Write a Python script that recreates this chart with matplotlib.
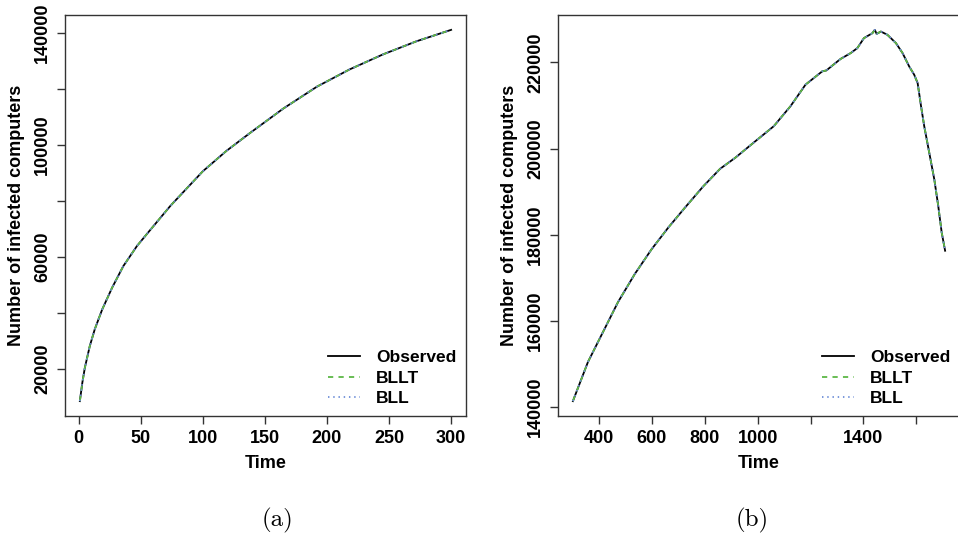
import matplotlib
matplotlib.use('Agg')
import matplotlib.pyplot as plt
from matplotlib.ticker import FixedLocator, FixedFormatter

# ---------------- data ----------------
time_a = [1, 3, 5, 9, 13, 19, 27, 36, 47, 58, 74, 100, 119, 138, 165, 192, 218, 245, 272, 300]
observed_a = [8400, 15000, 20300, 28100, 34100, 41200, 49000, 56700, 63900, 69800, 78300,
              90600, 97900, 104300, 113100, 120900, 127000, 132400, 137100, 141200]
bllt_a = list(observed_a)
bll_a = list(observed_a)

time_b = [301, 358, 396, 434, 472, 535, 599, 662, 725, 795, 858, 915, 991, 1061, 1124, 1181,
          1244, 1260, 1313, 1352, 1377, 1402, 1434, 1443, 1450, 1466, 1491, 1523, 1548, 1573,
          1592, 1605, 1618, 1630, 1649, 1668, 1683, 1696, 1709]
observed_b = [141300, 150400, 155050, 159700, 164350, 170830, 176620, 181640, 186270, 191270,
              195290, 197840, 201680, 205190, 209820, 214840, 217920, 218150, 220790, 222180,
              223330, 225650, 226800, 227570, 226640, 227180, 226410, 224490, 222180, 219080,
              217150, 215230, 209820, 205190, 199030, 192850, 186670, 180510, 176250]
bllt_b = list(observed_b)
bll_b = list(observed_b)

series_labels = ["Observed", "BLLT", "BLL"]

xticks_a = [0, 50, 100, 150, 200, 250, 300]
xticklabels_a = ["0", "50", "100", "150", "200", "250", "300"]
yticks_a = [20000, 40000, 60000, 80000, 100000, 120000, 140000]
yticklabels_a = ["20000", "", "60000", "", "100000", "", "140000"]

xticks_b = [400, 600, 800, 1000, 1200, 1400, 1600]
xticklabels_b = ["400", "600", "800", "1000", "", "1400", ""]
yticks_b = [140000, 160000, 180000, 200000, 220000]
yticklabels_b = ["140000", "160000", "180000", "200000", "220000"]

captions = ["(a)", "(b)"]

# ---------------- style ----------------
FONT = "Liberation Sans"
plt.rcParams['font.family'] = [FONT, 'DejaVu Sans']
plt.rcParams['font.weight'] = 'bold'

W, H = 958, 538
fig = plt.figure(figsize=(W / 100, H / 100), dpi=100)

green = '#5DB846'
blue = '#6E8FD8'
spine_col = '#333333'


def rlim(vals):
    lo, hi = min(vals), max(vals)
    d = (hi - lo) * 0.04
    return lo - d, hi + d


def make_panel(rect, t, obs, bllt, bll, xt, xtl, yt, ytl, ylabel_x):
    ax = fig.add_axes(rect)
    l1, = ax.plot(t, obs, color='black', lw=1.3, solid_joinstyle='round')
    l2, = ax.plot(t, bllt, color=green, lw=1.3, linestyle=(0, (2.9, 2.9)))
    l3, = ax.plot(t, bll, color=blue, lw=1.3, linestyle=(0, (0.8, 2.1)))
    ax.set_xlim(*rlim(t))
    ax.set_ylim(*rlim(obs))
    ax.xaxis.set_major_locator(FixedLocator(xt))
    ax.xaxis.set_major_formatter(FixedFormatter(xtl))
    ax.yaxis.set_major_locator(FixedLocator(yt))
    ax.yaxis.set_major_formatter(FixedFormatter(ytl))
    ax.tick_params(axis='both', direction='out', length=5.5, width=1.0, color=spine_col,
                   labelsize=13, pad=4.5)
    for lab in ax.get_yticklabels():
        lab.set_rotation(90)
        lab.set_va('center')
        lab.set_fontweight('bold')
    for lab in ax.get_xticklabels():
        lab.set_fontweight('bold')
    for s in ax.spines.values():
        s.set_color(spine_col)
        s.set_linewidth(1.0)
    ax.set_xlabel("Time", fontsize=13, fontweight='bold')
    ax.set_ylabel("Number of infected computers", fontsize=13, fontweight='bold')
    ax.xaxis.set_label_coords(0.5, -0.098)
    ax.yaxis.set_label_coords(ylabel_x, 0.5)
    leg = ax.legend([l1, l2, l3], series_labels, loc='lower right', bbox_to_anchor=(1.0, 0.0),
                    frameon=False, fontsize=12.5, handlelength=1.85, handletextpad=0.95,
                    labelspacing=0.32, borderaxespad=0.25, borderpad=0.3)
    for txt in leg.get_texts():
        txt.set_fontweight('bold')
    return ax


ax_bottom = (H - 416) / H
ax_h = 401 / H

make_panel([65 / W, ax_bottom, 401 / W, ax_h], time_a, observed_a, bllt_a, bll_a,
           xticks_a, xticklabels_a, yticks_a, yticklabels_a, -0.10)
make_panel([558 / W, ax_bottom, 402 / W, ax_h], time_b, observed_b, bllt_b, bll_b,
           xticks_b, xticklabels_b, yticks_b, yticklabels_b, -0.10)

fig.text(278 / W, 1 - 520 / H, captions[0], family='cmr10', fontsize=18, ha='center', va='center',
         fontweight='normal')
fig.text(752 / W, 1 - 520 / H, captions[1], family='cmr10', fontsize=18, ha='center', va='center',
         fontweight='normal')

fig.savefig('out.png', dpi=100)
